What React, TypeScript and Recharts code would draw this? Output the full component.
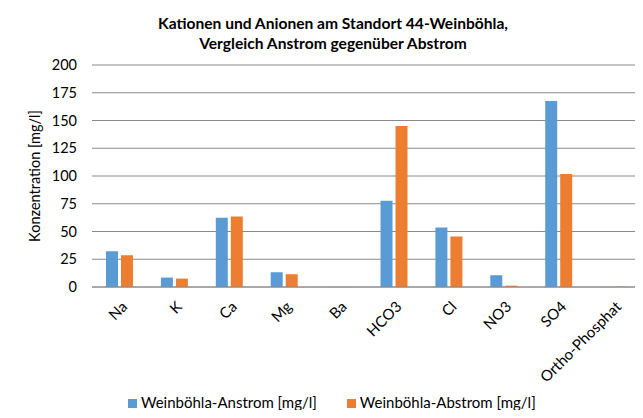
import React from "react";
import { BarChart, Bar, XAxis, YAxis, CartesianGrid } from "recharts";

const categories = ["Na", "K", "Ca", "Mg", "Ba", "HCO3", "Cl", "NO3", "SO4", "Ortho-Phosphat"];
const anstrom = [32.2, 8.5, 62.5, 13.3, 0.05, 77.6, 53.6, 10.6, 167.6, 0.1];
const abstrom = [28.6, 7.6, 63.6, 11.5, 0.05, 145.0, 45.5, 1.2, 101.7, 0.3];
const yTicks = [0, 25, 50, 75, 100, 125, 150, 175, 200];
const seriesNames = ["Weinböhla-Anstrom [mg/l]", "Weinböhla-Abstrom [mg/l]"];
const seriesColors = ["#5B9BD5", "#ED7D31"];

const data = categories.map((c, i) => ({ name: c, anstrom: anstrom[i], abstrom: abstrom[i] }));

const FONT = "Lato, 'Open Sans', sans-serif";

const XTick = (props: any) => {
  const { x, y, payload } = props;
  return (
    <g transform={`translate(${x + 5},${y + 9})`}>
      <text x={0} y={0} dy="0.35em" textAnchor="end" transform="rotate(-45)" fill="#000" fontSize={15} fontFamily={FONT}>
        {payload.value}
      </text>
    </g>
  );
};

export default function App() {
  return (
    <div style={{ position: "relative", width: 643, height: 418, margin: -8, overflow: "hidden", background: "#fff", fontFamily: FONT, borderLeft: "0px" }}>
      <div style={{ position: "absolute", left: 0, top: 13, width: 666, textAlign: "center", fontWeight: "bold", fontSize: 15.6, lineHeight: "20px", color: "#000" }}>
        Kationen und Anionen am Standort 44-Weinböhla,
        <br />
        Vergleich Anstrom gegenüber Abstrom
      </div>
      <div style={{ position: "absolute", left: 0, top: 0 }}>
        <BarChart width={643} height={418} data={data} margin={{ top: 65, right: 2, bottom: 0, left: 32 }} barGap={3} barSize={12}>
          <rect x={5.5} y={3.5} width={700} height={500} fill="none" stroke="#7f7f7f" strokeWidth={1.5} />
          <CartesianGrid vertical={false} stroke="#8a8a8a" strokeWidth={1} />
          <XAxis dataKey="name" interval={0} tickLine={false} axisLine={{ stroke: "#8a8a8a" }} tick={<XTick />} height={131} />
          <YAxis
            domain={[0, 200]}
            ticks={yTicks}
            interval={0}
            width={60}
            tickLine={false}
            axisLine={false}
            tickSize={0}
            tickMargin={15}
            tick={{ fill: "#000", fontSize: 14.5, fontFamily: FONT }}
            label={{ value: "Konzentration [mg/l]", angle: -90, position: "insideLeft", offset: 3, style: { textAnchor: "middle", fill: "#000", fontSize: 14.5, fontFamily: FONT } }}
          />
          <Bar dataKey="anstrom" name={seriesNames[0]} fill={seriesColors[0]} isAnimationActive={false} />
          <Bar dataKey="abstrom" name={seriesNames[1]} fill={seriesColors[1]} isAnimationActive={false} />
        </BarChart>
      </div>
      <div style={{ position: "absolute", left: 128, top: 393, display: "flex", alignItems: "center", fontSize: 15, lineHeight: "18px", color: "#000", whiteSpace: "nowrap" }}>
        {seriesNames.map((n, i) => (
          <div key={n} style={{ display: "flex", alignItems: "center", marginRight: i === 0 ? 30 : 0 }}>
            <span style={{ display: "inline-block", width: 9, height: 9, background: seriesColors[i], marginRight: 4, marginTop: 2 }} />
            <span>{n}</span>
          </div>
        ))}
      </div>
    </div>
  );
}
